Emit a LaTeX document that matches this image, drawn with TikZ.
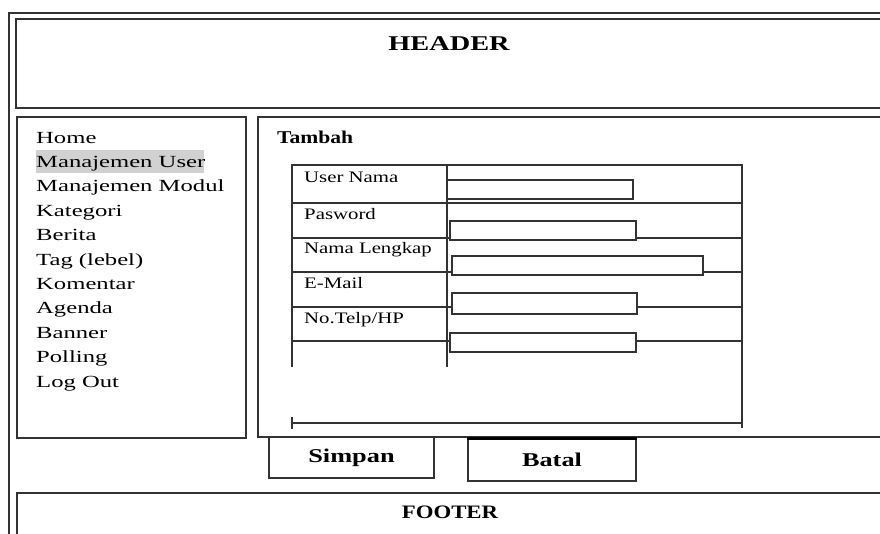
\documentclass[tikz,border=0pt]{standalone}
\usepackage{fontspec}
\setmainfont{Liberation Serif}
\newfontfamily\menufont[FakeStretch=1.45]{Liberation Serif}
\newfontfamily\formfont[FakeStretch=1.3]{Liberation Serif}
\newfontfamily\titlefont[FakeStretch=1.2]{Liberation Serif}
\newfontfamily\widetitlefont[FakeStretch=1.35]{Liberation Serif}

\tikzset{
  frame/.style={draw=black!80,line width=1.2pt},
  menuitem/.style={anchor=base west,inner sep=0pt,font=\menufont\fontsize{17}{19}\selectfont},
  formlabel/.style={anchor=base west,inner sep=0pt,font=\formfont\fontsize{16}{18}\selectfont},
  boxtitle/.style={inner sep=0pt,font=\titlefont\bfseries\fontsize{19}{21}\selectfont},
  inputbox/.style={frame,fill=white},
  button/.style={frame,fill=white,inner sep=0pt,font=\widetitlefont\bfseries\fontsize{19.5}{21}\selectfont}
}

\begin{document}
\begin{tikzpicture}[x=1pt,y=-1pt]
\useasboundingbox (0,0) rectangle (880,533);
\clip (0,0) rectangle (880,533);
\fill[white] (0,0) rectangle (880,533);

% outer frame and header
\draw[frame] (9,13) rectangle (900,560);
\draw[frame] (16,19) rectangle (900,108);
\path (449,44) node[boxtitle,font=\widetitlefont\bfseries\fontsize{21}{23}\selectfont] (header) {HEADER};

% menu
\draw[frame] (17,117) rectangle (246,438);
\fill[black!18] (36,150) rectangle (204,173);
\path (36,143) node[menuitem] (home) {Home};
\path (36,167.4) node[menuitem] (user) {Manajemen User};
\path (36,191.8) node[menuitem] (modul) {Manajemen Modul};
\path (36,216.2) node[menuitem] (kategori) {Kategori};
\path (36,240.6) node[menuitem] (berita) {Berita};
\path (36,265) node[menuitem] (tag) {Tag (lebel)};
\path (36,289.4) node[menuitem] (komentar) {Komentar};
\path (36,313.8) node[menuitem] (agenda) {Agenda};
\path (36,338.2) node[menuitem] (banner) {Banner};
\path (36,362.6) node[menuitem] (polling) {Polling};
\path (36,387) node[menuitem] (logout) {Log Out};

% content
\draw[frame] (258,117) rectangle (900,437);
\path (277,143) node[boxtitle,anchor=base west,font=\titlefont\bfseries\fontsize{18}{20}\selectfont] (tambah) {Tambah};

% form table
\draw[frame] (292,367) -- (292,165) -- (742,165) -- (742,428);
\draw[frame] (447,165) -- (447,367);
\draw[frame] (292,203) -- (742,203);
\draw[frame] (292,238) -- (742,238);
\draw[frame] (292,272) -- (742,272);
\draw[frame] (292,307) -- (742,307);
\draw[frame] (292,341) -- (742,341);
\draw[frame] (292,423) -- (742,423);
\draw[frame] (292,417) -- (292,429);

\path (304,182) node[formlabel] (lbluser) {User Nama};
\path (304,219) node[formlabel] (lblpass) {Pasword};
\path (304,253) node[formlabel] (lblnama) {Nama Lengkap};
\path (304,288) node[formlabel] (lblmail) {E-Mail};
\path (304,323) node[formlabel] (lbltelp) {No.Telp/HP};

\draw[inputbox] (447,180) rectangle (633,199);
\draw[inputbox] (450,221) rectangle (636,240);
\draw[inputbox] (452,256) rectangle (703,275);
\draw[inputbox] (452,293) rectangle (637,314);
\draw[inputbox] (450,333) rectangle (636,352);

% buttons
\path (351.5,457.5) node[button,minimum width=165pt,minimum height=41pt] (simpan) {Simpan};
\path (552,460) node[button,minimum width=168pt,minimum height=42pt] (batal) {Batal};
\draw[black,line width=2.2pt] (batal.north west) -- (batal.north east);

% footer
\draw[frame] (17,493) rectangle (900,560);
\path (450,512) node[boxtitle] (footer) {FOOTER};
\end{tikzpicture}
\end{document}
